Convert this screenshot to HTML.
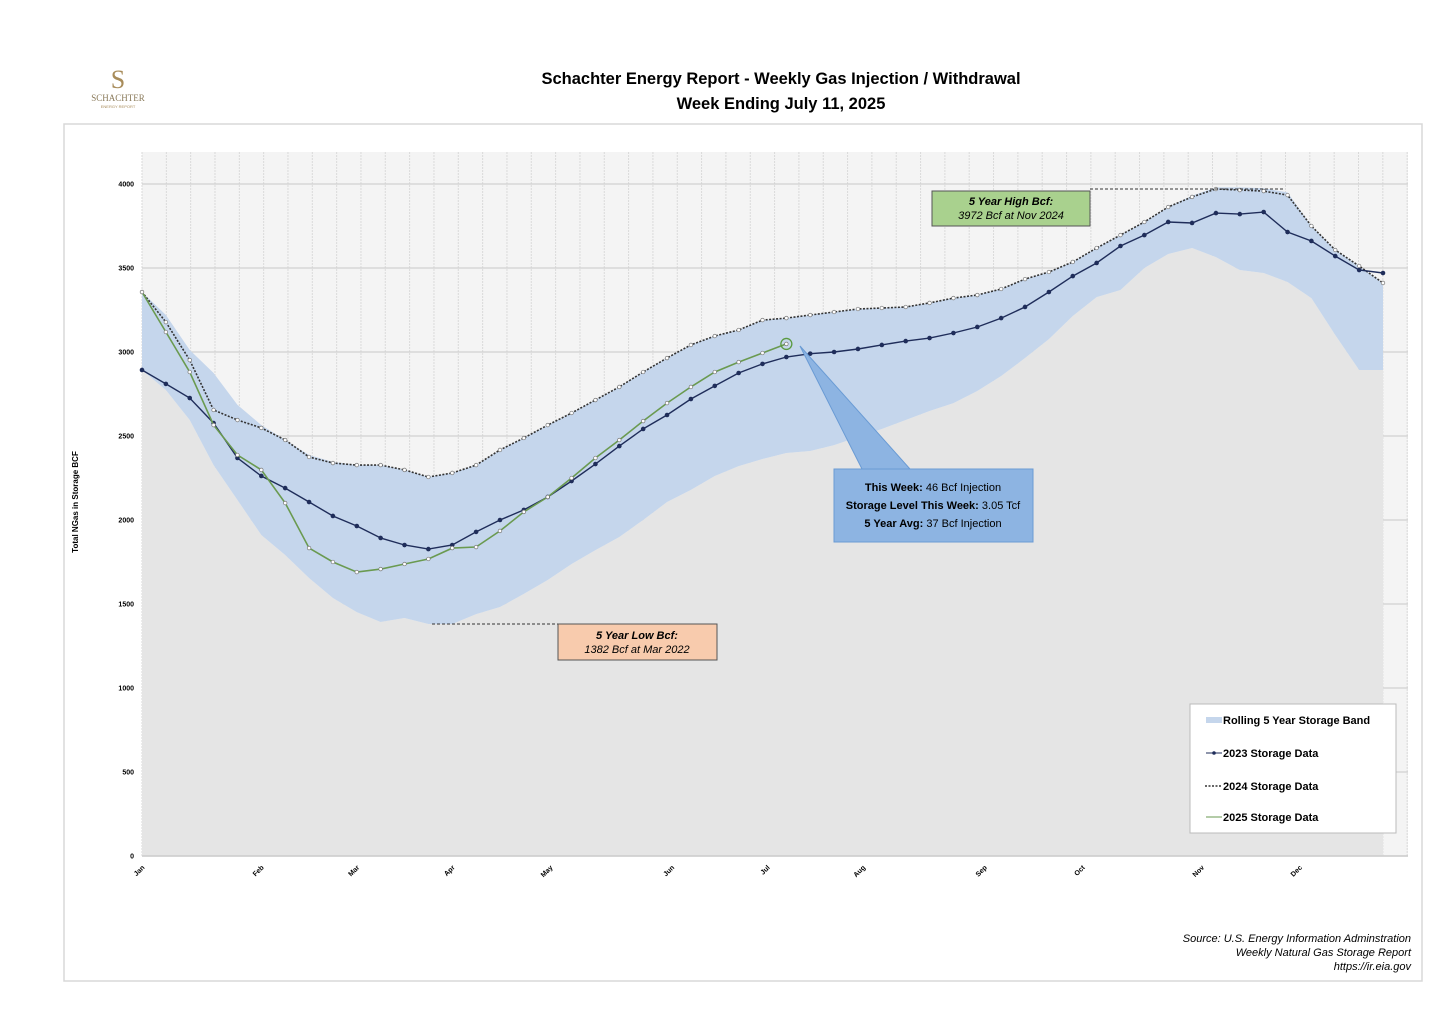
<!DOCTYPE html>
<html><head><meta charset="utf-8">
<style>
body{margin:0;background:#fff;width:1456px;height:1019px;overflow:hidden;font-family:"Liberation Sans",sans-serif}
</style></head>
<body>
<svg id="c" width="1456" height="1019" xmlns="http://www.w3.org/2000/svg" font-family="Liberation Sans, sans-serif">
<g>
<text x="118" y="88" font-size="26" font-family="Liberation Serif, serif" fill="#a88c5a" text-anchor="middle">S</text>
<text x="118" y="101" font-size="9" font-family="Liberation Serif, serif" fill="#8a7a5a" text-anchor="middle">SCHACHTER</text>
<text x="118" y="108" font-size="4" fill="#a88c5a" text-anchor="middle">ENERGY REPORT</text>
</g>
<text x="781" y="84" font-size="16.5" font-weight="bold" text-anchor="middle">Schachter Energy Report - Weekly Gas Injection / Withdrawal</text>
<text x="781" y="109" font-size="16.5" font-weight="bold" text-anchor="middle">Week Ending July 11, 2025</text>
<rect x="64" y="124" width="1358" height="857" fill="none" stroke="#d8d8d8" stroke-width="1.5"/>
<rect x="142" y="152" width="1266" height="704" fill="#f4f4f4"/>
<g id="grid"></g>
<g id="marks"></g>
<g id="axes"></g>
<text transform="translate(78,502) rotate(-90)" font-size="8" font-weight="bold" text-anchor="middle">Total NGas in Storage BCF</text>
<g>
<line x1="1090" y1="189" x2="1285" y2="189" stroke="#333" stroke-dasharray="3,2"/>
<rect x="932" y="191" width="158" height="35" fill="#a9d18e" stroke="#555"/>
<text x="1011" y="205" font-size="11" font-weight="bold" font-style="italic" text-anchor="middle">5 Year High Bcf:</text>
<text x="1011" y="219" font-size="11" font-style="italic" text-anchor="middle">3972 Bcf at Nov 2024</text>
</g>
<g>
<line x1="432" y1="624" x2="558" y2="624" stroke="#333" stroke-dasharray="3,2"/>
<rect x="558" y="624" width="159" height="36" fill="#f8cbad" stroke="#555"/>
<text x="637" y="639" font-size="11" font-weight="bold" font-style="italic" text-anchor="middle">5 Year Low Bcf:</text>
<text x="637" y="653" font-size="11" font-style="italic" text-anchor="middle">1382 Bcf at Mar 2022</text>
</g>
<g>
<polygon points="800,346 862,469 910,469" fill="#8db4e2" stroke="#6a9bd4"/>
<rect x="834" y="469" width="199" height="73" fill="#8db4e2" stroke="#6a9bd4"/>
<text x="933" y="491" font-size="11" text-anchor="middle"><tspan font-weight="bold">This Week:</tspan> 46 Bcf Injection</text>
<text x="933" y="509" font-size="11" text-anchor="middle"><tspan font-weight="bold">Storage Level This Week:</tspan> 3.05 Tcf</text>
<text x="933" y="527" font-size="11" text-anchor="middle"><tspan font-weight="bold">5 Year Avg:</tspan> 37 Bcf Injection</text>
</g>
<g>
<rect x="1190" y="704" width="206" height="129" fill="#fff" stroke="#bbb"/>
<rect x="1206" y="717" width="16" height="6" fill="#c5d6ec"/>
<text x="1223" y="724" font-size="11" font-weight="bold">Rolling 5 Year Storage Band</text>
<line x1="1206" y1="753" x2="1222" y2="753" stroke="#1f2d5a"/><circle cx="1214" cy="753" r="1.8" fill="#1f2d5a"/>
<text x="1223" y="757" font-size="11" font-weight="bold">2023 Storage Data</text>
<line x1="1205" y1="786" x2="1222" y2="786" stroke="#333" stroke-dasharray="2,1.5" stroke-width="1.5"/>
<text x="1223" y="790" font-size="11" font-weight="bold">2024 Storage Data</text>
<line x1="1206" y1="817" x2="1222" y2="817" stroke="#6a9a50"/>
<text x="1223" y="821" font-size="11" font-weight="bold">2025 Storage Data</text>
</g>
<g font-size="11" font-style="italic" text-anchor="end">
<text x="1411" y="942">Source: U.S. Energy Information Adminstration</text>
<text x="1411" y="956">Weekly Natural Gas Storage Report</text>
<text x="1411" y="970">https://ir.eia.gov</text>
</g>
</svg>
<script>
const months=["Jan","Feb","Mar","Apr","May","Jun","Jul","Aug","Sep","Oct","Nov","Dec"];
const monthWeeks=[0,5,9,13,17.1,22.2,26.2,30.2,35.3,39.4,44.4,48.5];
const yTicks=[0,500,1000,1500,2000,2500,3000,3500,4000];
const s2023=[2893,2810,2726,2577,2369,2262,2190,2107,2024,1964,1893,1851,1827,1851,1929,2000,2060,2137,2232,2333,2440,2542,2625,2720,2798,2875,2929,2970,2990,3000,3018,3042,3065,3083,3113,3149,3202,3268,3357,3452,3530,3631,3696,3774,3768,3827,3821,3833,3714,3661,3571,3488,3470];
const s2024=[3357,3178,2952,2655,2595,2548,2476,2375,2339,2327,2327,2298,2256,2280,2327,2417,2488,2565,2637,2714,2792,2881,2964,3042,3095,3131,3190,3202,3220,3238,3256,3262,3268,3292,3321,3339,3375,3434,3476,3536,3619,3696,3774,3863,3923,3970,3964,3958,3934,3750,3607,3512,3411];
const s2025=[3357,3119,2881,2565,2387,2298,2101,1833,1750,1690,1708,1738,1768,1833,1839,1935,2048,2137,2250,2369,2476,2589,2696,2792,2881,2940,2994,3048];
const bandUpper=[3357,3220,3012,2875,2685,2565,2476,2387,2345,2327,2327,2298,2256,2280,2327,2417,2488,2565,2637,2714,2792,2881,2964,3042,3095,3131,3190,3202,3220,3238,3256,3262,3268,3292,3321,3339,3375,3434,3476,3536,3619,3696,3774,3863,3930,3980,3980,3975,3950,3750,3607,3512,3411];
const bandLower=[2893,2774,2595,2327,2119,1911,1792,1655,1536,1452,1393,1417,1381,1381,1440,1482,1560,1643,1738,1821,1899,2000,2107,2179,2262,2321,2363,2399,2411,2446,2494,2542,2595,2649,2696,2768,2857,2964,3077,3214,3327,3369,3500,3583,3619,3565,3488,3470,3417,3321,3101,2893,2893];

const X0=142,XN=1383,NW=52,Y0=856,K=0.168;
const x=i=>X0+i*(XN-X0)/NW;
const y=v=>Y0-v*K;
const NS="http://www.w3.org/2000/svg";
function mk(tag,attrs,parent){const e=document.createElementNS(NS,tag);for(const k in attrs)e.setAttribute(k,attrs[k]);parent.appendChild(e);return e;}
const grid=document.getElementById('grid'),marks=document.getElementById('marks'),axes=document.getElementById('axes');
for(let i=0;i<=53;i++){const gx=X0+i*24.33;if(gx>1408)break;const l=mk('line',{x1:gx,y1:152,x2:gx,y2:856,stroke:'#dadada','stroke-width':1,'stroke-dasharray':'2,1'},grid);

}
yTicks.forEach(t=>{const l=mk('line',{x1:X0,y1:y(t),x2:1408,y2:y(t),stroke:'#d0d0d0','stroke-width':1.2},grid);


const tx=mk('text',{x:134,y:y(t)+2.5,'font-size':7,'font-weight':'bold','text-anchor':'end'},axes);tx.textContent=t;

});
let d='M'+x(0)+','+Y0;bandLower.forEach((v,i)=>d+='L'+x(i)+','+y(v));d+='L'+x(bandLower.length-1)+','+Y0+'Z';
const ga=mk('path',{d:d,fill:'#e5e5e5'},marks);


let bd='';bandUpper.forEach((v,i)=>bd+=(i?'L':'M')+x(i)+','+y(v));for(let i=bandLower.length-1;i>=0;i--)bd+='L'+x(i)+','+y(bandLower[i]);bd+='Z';
const band=mk('path',{d:bd,fill:'#c5d6ec'},marks);


function line(arr,stroke,dash,w,name){let p='';arr.forEach((v,i)=>p+=(i?'L':'M')+x(i).toFixed(1)+','+y(v).toFixed(1));const e=mk('path',{d:p,fill:'none',stroke:stroke,'stroke-width':w,'stroke-dasharray':dash},marks);

}
line(s2024,'#333','2,1.5',1.6,'line-2024');
s2024.forEach((v,i)=>{const m=mk('circle',{cx:x(i),cy:y(v),r:1.8,fill:'#fff',stroke:'#777','stroke-width':0.7},marks);

});
line(s2023,'#1f2d5a','',1.4,'line-2023');
s2023.forEach((v,i)=>{const m=mk('circle',{cx:x(i),cy:y(v),r:2.3,fill:'#1f2d5a'},marks);

});
line(s2025,'#6a9a50','',1.6,'line-2025');
s2025.forEach((v,i)=>{const m=mk('circle',{cx:x(i),cy:y(v),r:1.8,fill:'#fff',stroke:'#777','stroke-width':0.7},marks);

});
const L=s2025.length-1;
const cur=mk('circle',{cx:x(L),cy:y(s2025[L]),r:5.5,fill:'none',stroke:'#5a9a40','stroke-width':1.3},marks);


mk('line',{x1:X0,y1:Y0,x2:1408,y2:Y0,stroke:'#ccc','stroke-width':1.5},axes);
months.forEach((m,i)=>{const mx=x(monthWeeks[i]);const t=mk('text',{x:0,y:0,'font-size':7,'font-weight':'bold','text-anchor':'end',transform:`translate(${mx+3},${868}) rotate(-45)`},axes);t.textContent=m;

});
</script>
</body></html>
